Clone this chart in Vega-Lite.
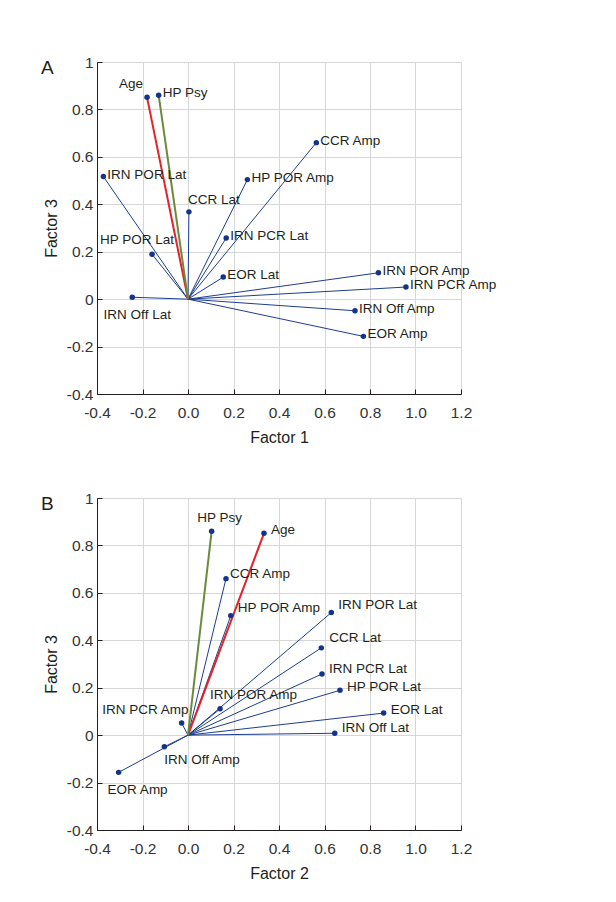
{
  "$schema": "https://vega.github.io/schema/vega-lite/v6.json",
  "padding": {"left": 41, "top": 55, "right": 5, "bottom": 5},
  "background": "white",
  "data": {"values": [
    {"var": "IRN POR Lat", "f1": -0.372, "f2": 0.630, "f3": 0.517},
    {"var": "CCR Lat", "f1": 0.004, "f2": 0.586, "f3": 0.368},
    {"var": "HP POR Amp", "f1": 0.261, "f2": 0.188, "f3": 0.504},
    {"var": "CCR Amp", "f1": 0.564, "f2": 0.167, "f3": 0.660},
    {"var": "IRN PCR Lat", "f1": 0.168, "f2": 0.589, "f3": 0.258},
    {"var": "HP POR Lat", "f1": -0.158, "f2": 0.668, "f3": 0.189},
    {"var": "EOR Lat", "f1": 0.155, "f2": 0.860, "f3": 0.093},
    {"var": "IRN Off Lat", "f1": -0.245, "f2": 0.645, "f3": 0.008},
    {"var": "IRN POR Amp", "f1": 0.837, "f2": 0.141, "f3": 0.111},
    {"var": "IRN PCR Amp", "f1": 0.958, "f2": -0.028, "f3": 0.051},
    {"var": "IRN Off Amp", "f1": 0.734, "f2": -0.104, "f3": -0.049},
    {"var": "EOR Amp", "f1": 0.771, "f2": -0.305, "f3": -0.157},
    {"var": "Age", "f1": -0.180, "f2": 0.334, "f3": 0.851},
    {"var": "HP Psy", "f1": -0.129, "f2": 0.104, "f3": 0.860}
  ]},
  "vconcat": [
    {
      "width": 364,
      "height": 332,
      "title": {"text": "A", "dx": -56, "dy": 27},
      "encoding": {
        "x": {"field": "f1", "type": "quantitative", "scale": {"domain": [-0.4, 1.2], "nice": false, "zero": false},
              "axis": {"title": "Factor 1", "values": [-0.4, -0.2, 0, 0.2, 0.4, 0.6, 0.8, 1, 1.2],
                       "labelExpr": "(datum.value < -0.001 ? '-' : '') + format(abs(datum.value), '.1f')"}},
        "y": {"field": "f3", "type": "quantitative", "scale": {"domain": [-0.4, 1], "nice": false, "zero": false},
              "axis": {"title": "Factor 3", "values": [-0.4, -0.2, 0, 0.2, 0.4, 0.6, 0.8, 1],
                       "labelExpr": "abs(datum.value) < 0.001 ? '0' : datum.value > 0.999 ? '1' : (datum.value < 0 ? '-' : '') + format(abs(datum.value), '.1f')"}}
      },
      "layer": [
        {"data": {"values": [{}]}, "mark": {"type": "rule", "color": "#000000", "strokeWidth": 1},
         "encoding": {"x": {"datum": -0.4}, "x2": {"datum": 1.054}, "y": {"datum": 0}}},
        {"data": {"values": [{}]}, "mark": {"type": "rule", "color": "#000000", "strokeWidth": 1},
         "encoding": {"x": {"datum": 0}, "y": {"datum": -0.4}, "y2": {"datum": 1}}},
        {"mark": {"type": "rule"},
         "encoding": {
           "x2": {"datum": 0}, "y2": {"datum": 0},
           "color": {"condition": [{"test": "datum.var === 'Age'", "value": "#e3232b"}, {"test": "datum.var === 'HP Psy'", "value": "#6d8a3c"}], "value": "#1d3d8f"},
           "strokeWidth": {"condition": {"test": "datum.var === 'Age' || datum.var === 'HP Psy'", "value": 2}, "value": 1}
         }},
        {"mark": {"type": "point", "filled": true, "size": 30, "color": "#14348a", "opacity": 1}},
        {"transform": [{"filter": {"field": "var", "oneOf": ["HP Psy", "IRN POR Lat", "HP POR Amp", "CCR Amp", "IRN PCR Lat", "EOR Lat", "IRN POR Amp", "IRN PCR Amp", "IRN Off Amp", "EOR Amp"]}}],
         "mark": {"type": "text", "align": "left", "baseline": "middle", "dx": 4, "dy": -2},
         "encoding": {"text": {"field": "var"}}},
        {"transform": [{"filter": {"field": "var", "equal": "Age"}}],
         "mark": {"type": "text", "align": "right", "baseline": "middle", "dx": -4, "dy": -13},
         "encoding": {"text": {"field": "var"}}},
        {"transform": [{"filter": {"field": "var", "equal": "CCR Lat"}}],
         "mark": {"type": "text", "align": "left", "baseline": "middle", "dx": -1, "dy": -12},
         "encoding": {"text": {"field": "var"}}},
        {"transform": [{"filter": {"field": "var", "equal": "HP POR Lat"}}],
         "mark": {"type": "text", "align": "center", "baseline": "middle", "dx": -15, "dy": -14},
         "encoding": {"text": {"field": "var"}}},
        {"transform": [{"filter": {"field": "var", "equal": "IRN Off Lat"}}],
         "mark": {"type": "text", "align": "center", "baseline": "middle", "dx": 5, "dy": 18},
         "encoding": {"text": {"field": "var"}}}
      ]
    },
    {
      "width": 364,
      "height": 332,
      "title": {"text": "B", "dx": -56, "dy": 27},
      "encoding": {
        "x": {"field": "f2", "type": "quantitative", "scale": {"domain": [-0.4, 1.2], "nice": false, "zero": false},
              "axis": {"title": "Factor 2", "values": [-0.4, -0.2, 0, 0.2, 0.4, 0.6, 0.8, 1, 1.2],
                       "labelExpr": "(datum.value < -0.001 ? '-' : '') + format(abs(datum.value), '.1f')"}},
        "y": {"field": "f3", "type": "quantitative", "scale": {"domain": [-0.4, 1], "nice": false, "zero": false},
              "axis": {"title": "Factor 3", "values": [-0.4, -0.2, 0, 0.2, 0.4, 0.6, 0.8, 1],
                       "labelExpr": "abs(datum.value) < 0.001 ? '0' : datum.value > 0.999 ? '1' : (datum.value < 0 ? '-' : '') + format(abs(datum.value), '.1f')"}}
      },
      "layer": [
        {"data": {"values": [{}]}, "mark": {"type": "rule", "color": "#000000", "strokeWidth": 1},
         "encoding": {"x": {"datum": -0.4}, "x2": {"datum": 0.947}, "y": {"datum": 0}}},
        {"data": {"values": [{}]}, "mark": {"type": "rule", "color": "#000000", "strokeWidth": 1},
         "encoding": {"x": {"datum": 0}, "y": {"datum": -0.4}, "y2": {"datum": 0.946}}},
        {"mark": {"type": "rule"},
         "encoding": {
           "x2": {"datum": 0}, "y2": {"datum": 0},
           "color": {"condition": [{"test": "datum.var === 'Age'", "value": "#e3232b"}, {"test": "datum.var === 'HP Psy'", "value": "#6d8a3c"}], "value": "#1d3d8f"},
           "strokeWidth": {"condition": {"test": "datum.var === 'Age' || datum.var === 'HP Psy'", "value": 2}, "value": 1}
         }},
        {"mark": {"type": "point", "filled": true, "size": 30, "color": "#14348a", "opacity": 1}},
        {"transform": [{"filter": {"field": "var", "oneOf": ["Age", "EOR Lat", "HP POR Lat"]}}],
         "mark": {"type": "text", "align": "left", "baseline": "middle", "dx": 7, "dy": -3},
         "encoding": {"text": {"field": "var"}}},
        {"transform": [{"filter": {"field": "var", "oneOf": ["IRN PCR Lat", "IRN Off Lat"]}}],
         "mark": {"type": "text", "align": "left", "baseline": "middle", "dx": 7, "dy": -5},
         "encoding": {"text": {"field": "var"}}},
        {"transform": [{"filter": {"field": "var", "equal": "CCR Amp"}}],
         "mark": {"type": "text", "align": "left", "baseline": "middle", "dx": 4, "dy": -5},
         "encoding": {"text": {"field": "var"}}},
        {"transform": [{"filter": {"field": "var", "oneOf": ["HP POR Amp", "IRN POR Lat"]}}],
         "mark": {"type": "text", "align": "left", "baseline": "middle", "dx": 7, "dy": -8},
         "encoding": {"text": {"field": "var"}}},
        {"transform": [{"filter": {"field": "var", "equal": "CCR Lat"}}],
         "mark": {"type": "text", "align": "left", "baseline": "middle", "dx": 8, "dy": -10},
         "encoding": {"text": {"field": "var"}}},
        {"transform": [{"filter": {"field": "var", "equal": "HP Psy"}}],
         "mark": {"type": "text", "align": "center", "baseline": "middle", "dx": 8, "dy": -13},
         "encoding": {"text": {"field": "var"}}},
        {"transform": [{"filter": {"field": "var", "equal": "IRN POR Amp"}}],
         "mark": {"type": "text", "align": "left", "baseline": "middle", "dx": -10, "dy": -14},
         "encoding": {"text": {"field": "var"}}},
        {"transform": [{"filter": {"field": "var", "equal": "IRN PCR Amp"}}],
         "mark": {"type": "text", "align": "right", "baseline": "middle", "dx": 7, "dy": -13},
         "encoding": {"text": {"field": "var"}}},
        {"transform": [{"filter": {"field": "var", "equal": "IRN Off Amp"}}],
         "mark": {"type": "text", "align": "left", "baseline": "middle", "dx": 0, "dy": 13},
         "encoding": {"text": {"field": "var"}}},
        {"transform": [{"filter": {"field": "var", "equal": "EOR Amp"}}],
         "mark": {"type": "text", "align": "left", "baseline": "middle", "dx": -11, "dy": 18},
         "encoding": {"text": {"field": "var"}}}
      ]
    }
  ],
  "spacing": 45,
  "config": {
    "view": {"stroke": null},
    "font": "Liberation Sans",
    "text": {"font": "Liberation Sans", "fontSize": 13.5, "color": "#231f20"},
    "title": {"font": "Liberation Sans", "fontSize": 19, "fontWeight": "normal", "color": "#231f20", "anchor": "start", "frame": "group"},
    "axis": {
      "domainColor": "#231f20", "domainWidth": 1,
      "tickColor": "#231f20", "tickSize": -5,
      "grid": true, "gridColor": "#d6d6d6", "gridWidth": 1,
      "labelFlush": false,
      "labelFont": "Liberation Sans", "labelFontSize": 15.5, "labelColor": "#333333",
      "titleFont": "Liberation Sans", "titleFontSize": 16, "titleFontWeight": "normal", "titleColor": "#231f20"
    },
    "axisX": {"labelPadding": 16, "titlePadding": 9},
    "axisY": {"labelPadding": 9, "titlePadding": 7}
  }
}
